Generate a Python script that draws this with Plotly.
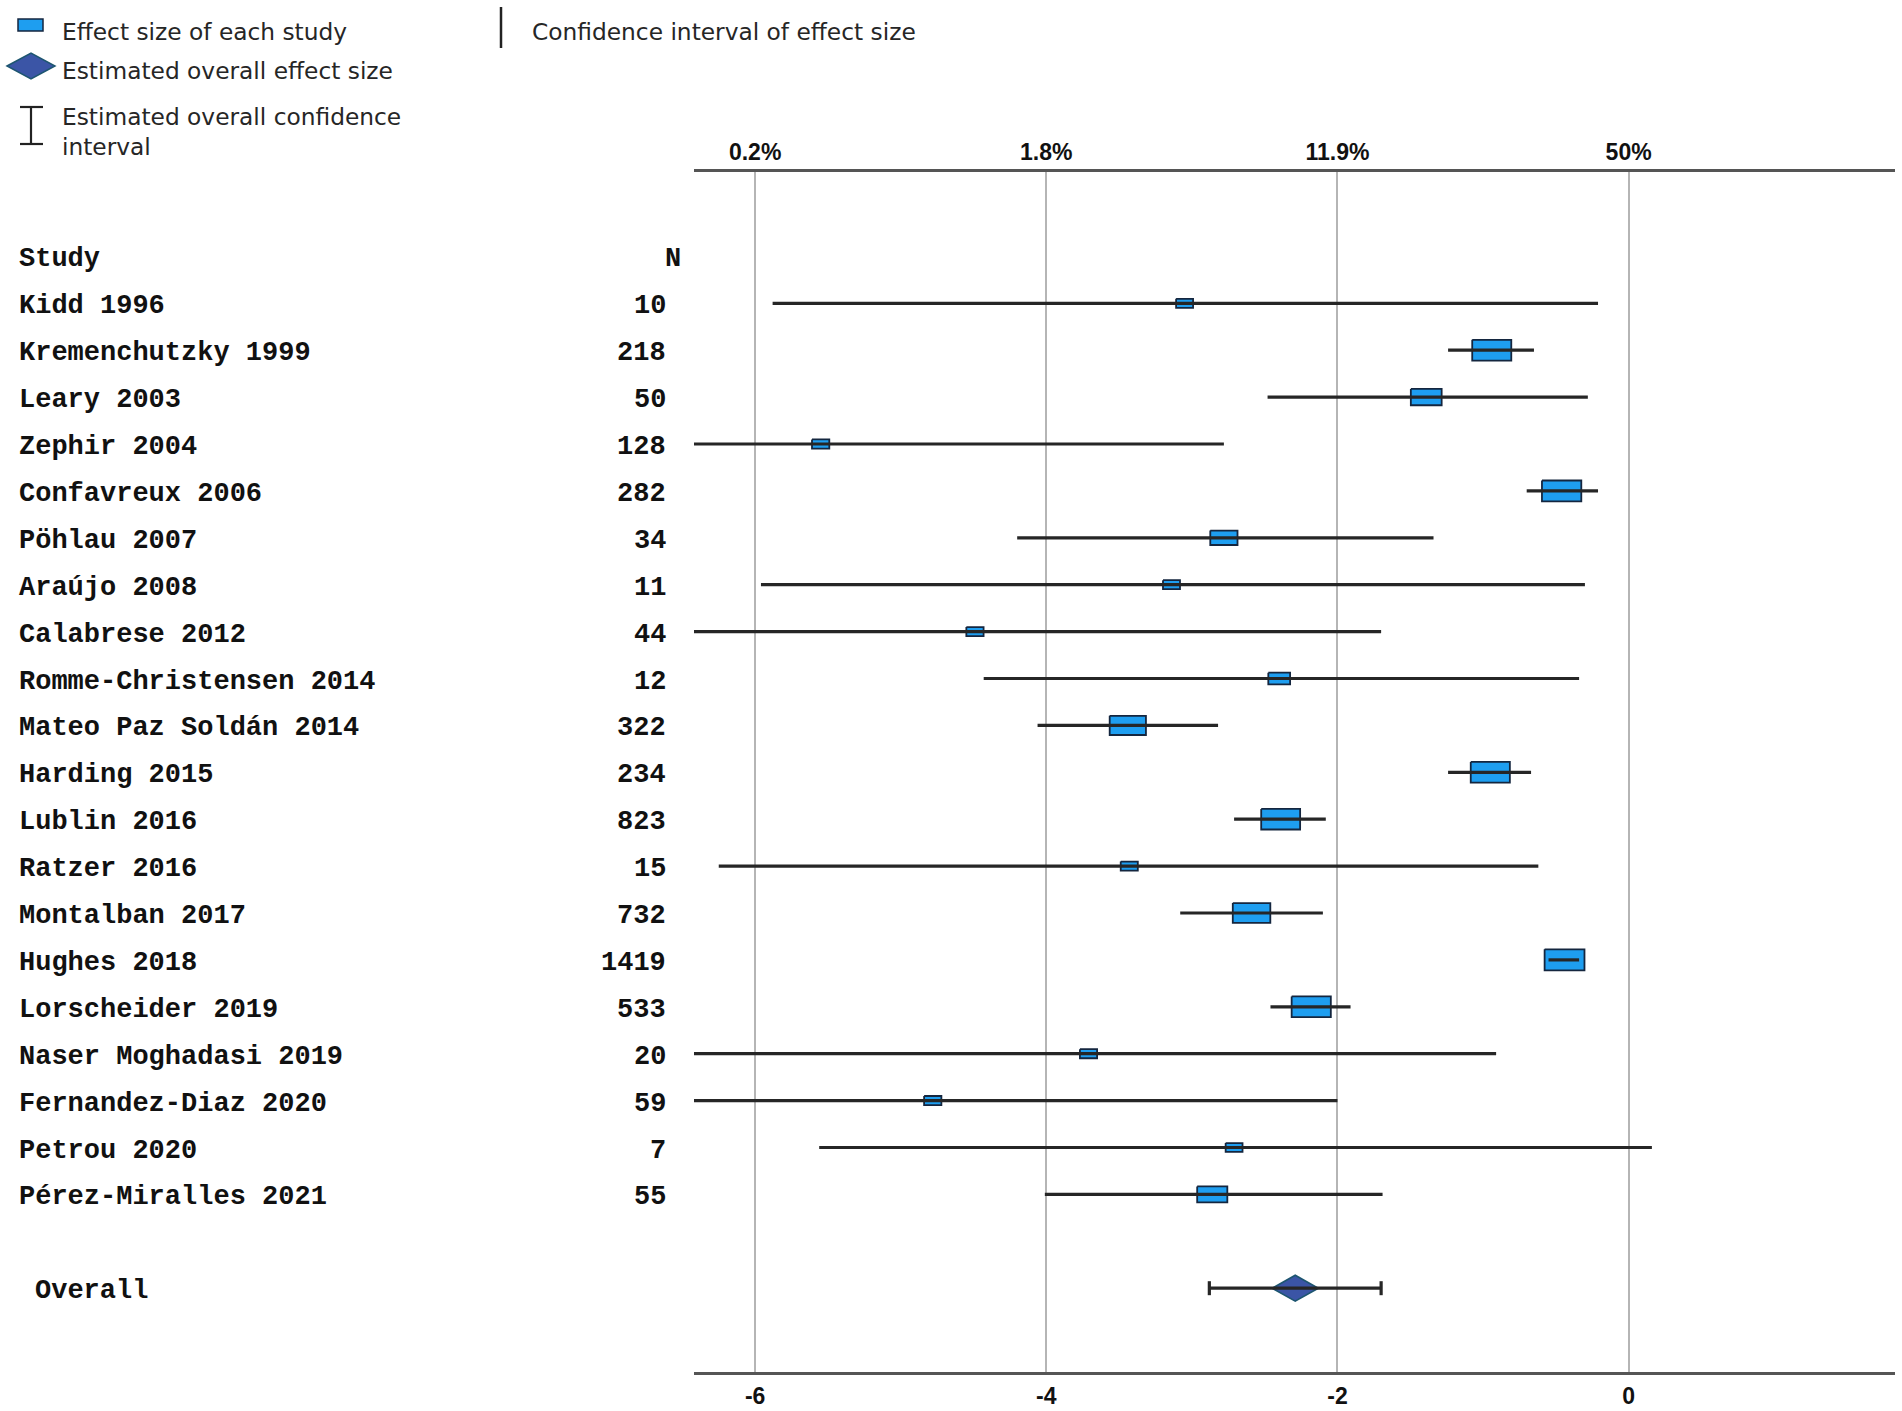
import plotly.graph_objects as go

# Forest plot: logit-scale proportion per study (lower axis), percentages on top

studies = [
    "Kidd 1996", "Kremenchutzky 1999", "Leary 2003", "Zephir 2004", "Confavreux 2006",
    "Pöhlau 2007", "Araújo 2008", "Calabrese 2012", "Romme-Christensen 2014", "Mateo Paz Soldán 2014",
    "Harding 2015", "Lublin 2016", "Ratzer 2016", "Montalban 2017", "Hughes 2018",
    "Lorscheider 2019", "Naser Moghadasi 2019", "Fernandez-Diaz 2020", "Petrou 2020", "Pérez-Miralles 2021",
]
n_patients = [10, 218, 50, 128, 282, 34, 11, 44, 12, 322, 234, 823, 15, 732, 1419, 533, 20, 59, 7, 55]
effect = [-3.05, -0.94, -1.39, -5.55, -0.46, -2.78, -3.14, -4.49, -2.40, -3.44,
          -0.95, -2.39, -3.43, -2.59, -0.44, -2.18, -3.71, -4.78, -2.71, -2.86]
ci_low = [-5.88, -1.24, -2.48, -8.32, -0.70, -4.20, -5.96, -7.27, -4.43, -4.06,
          -1.24, -2.71, -6.25, -3.08, -0.55, -2.46, -6.50, -7.55, -5.56, -4.01]
ci_high = [-0.21, -0.65, -0.28, -2.78, -0.21, -1.34, -0.30, -1.70, -0.34, -2.82,
           -0.67, -2.08, -0.62, -2.10, -0.34, -1.91, -0.91, -2.00, 0.16, -1.69]

overall_effect = -2.29
overall_low = -2.88
overall_high = -1.70

axis_ticks = [-6, -4, -2, 0]
bottom_tick_labels = ["-6", "-4", "-2", "0"]
top_tick_labels = ["0.2%", "1.8%", "11.9%", "50%"]

# ---- layout geometry (pixels) ----
W, H = 1902, 1411
PL, PR, PT, PB = 694, 1895, 172, 1372
X_RANGE = [-6.42, 1.83]
XPX = (PR - PL) / (X_RANGE[1] - X_RANGE[0])
ROW0, ROW_PX = 303.3, 46.9
Y_RANGE = [(PB - ROW0) / ROW_PX, (PT - ROW0) / ROW_PX]
OVERALL_ROW = 21

BOX_FILL = "#1e9ef0"
BOX_EDGE = "#14263f"
LINE_COL = "#262626"
DIAMOND_FILL = "#3b55a6"
DIAMOND_EDGE = "#1d5670"

# box size follows random-effects weight (saturates for precise studies)
TAU2 = 0.46


def box_width_px(lo, hi):
    se = (hi - lo) / 3.92
    w = 1 / (se ** 2 + TAU2)
    return 40 * (w * TAU2) ** 0.5


fig = go.Figure()

# study boxes
bx, by = [], []
for i, (e, lo, hi) in enumerate(zip(effect, ci_low, ci_high)):
    bw = box_width_px(lo, hi)
    hw = bw / 2 / XPX
    hh = bw * 0.53 / 2 / ROW_PX
    bx += [e - hw, e + hw, e + hw, e - hw, e - hw, None]
    by += [i - hh, i - hh, i + hh, i + hh, i - hh, None]
fig.add_trace(go.Scatter(
    x=bx, y=by, mode="lines", fill="toself", fillcolor=BOX_FILL,
    line=dict(color=BOX_EDGE, width=1.8), hoverinfo="skip", showlegend=False
))

# confidence intervals
cx, cy = [], []
for i, (lo, hi) in enumerate(zip(ci_low, ci_high)):
    cx += [lo, hi, None]
    cy += [i, i, None]
fig.add_trace(go.Scatter(
    x=cx, y=cy, mode="lines", line=dict(color=LINE_COL, width=3.2),
    hoverinfo="skip", showlegend=False
))

# overall diamond
dhw = 23 / XPX
dhh = 13 / ROW_PX
r = OVERALL_ROW
fig.add_trace(go.Scatter(
    x=[overall_effect - dhw, overall_effect, overall_effect + dhw, overall_effect, overall_effect - dhw],
    y=[r, r - dhh, r, r + dhh, r],
    mode="lines", fill="toself", fillcolor=DIAMOND_FILL,
    line=dict(color=DIAMOND_EDGE, width=1.6), hoverinfo="skip", showlegend=False
))

# overall CI with end caps
cap = 7 / ROW_PX
fig.add_trace(go.Scatter(
    x=[overall_low, overall_high, None, overall_low, overall_low, None, overall_high, overall_high],
    y=[r, r, None, r - cap, r + cap, None, r - cap, r + cap],
    mode="lines", line=dict(color=LINE_COL, width=3.2),
    hoverinfo="skip", showlegend=False
))

# invisible trace so the top axis gets drawn
fig.add_trace(go.Scatter(
    x=[axis_ticks[0]], y=[0], xaxis="x2", mode="markers",
    marker=dict(opacity=0), hoverinfo="skip", showlegend=False
))

tick_font = dict(family="Liberation Sans Narrow, Liberation Sans, Arial", size=23, color="#111111")

fig.update_layout(
    width=W, height=H,
    margin=dict(l=PL, r=W - PR, t=PT, b=H - PB, pad=0),
    plot_bgcolor="white", paper_bgcolor="white",
    xaxis=dict(
        range=X_RANGE, tickvals=axis_ticks, automargin=False,
        ticktext=[f"<b>{t}</b>" for t in bottom_tick_labels],
        tickfont=tick_font, ticks="outside", ticklen=1, tickcolor="rgba(0,0,0,0)",
        showgrid=True, gridcolor="#b5b5b5", gridwidth=1.5, zeroline=False,
        showline=True, linecolor="#555555", linewidth=3, mirror=True,
    ),
    xaxis2=dict(
        range=X_RANGE, overlaying="x", side="top", tickvals=axis_ticks, automargin=False,
        ticktext=[f"<b>{t}</b>" for t in top_tick_labels],
        tickfont=tick_font, ticks="outside", ticklen=2, tickcolor="rgba(0,0,0,0)",
        showgrid=False, zeroline=False, showline=False,
    ),
    yaxis=dict(range=Y_RANGE, visible=False, automargin=False),
)

# study table on the left
mono = dict(family="Liberation Mono, Courier New, monospace", size=27, color="#111111")
table = [("Study", "N", -1)] + [(s, str(n), i) for i, (s, n) in enumerate(zip(studies, n_patients))]
for name, n, row in table:
    fig.add_annotation(xref="paper", yref="y", x=0, y=row, xshift=17 - PL, yshift=-3,
                       text=f"<b>{name}</b>", showarrow=False, xanchor="left",
                       yanchor="middle", font=mono)
    fig.add_annotation(xref="paper", yref="y", x=0, y=row, xshift=(683 if row < 0 else 668) - PL,
                       yshift=-3, text=f"<b>{n}</b>", showarrow=False, xanchor="right",
                       yanchor="middle", font=mono)
fig.add_annotation(xref="paper", yref="y", x=0, y=OVERALL_ROW, xshift=33 - PL, yshift=-3,
                   text="<b>Overall</b>", showarrow=False, xanchor="left",
                   yanchor="middle", font=mono)


# legend drawn in pixel space above the plot
def px(x):
    return (x - PL) / (PR - PL)


def py(y):
    return (PB - y) / (PB - PT)


leg_font = dict(family="DejaVu Sans, Noto Sans, sans-serif", size=23.3, color="#262626")

fig.add_shape(type="rect", xref="paper", yref="paper",
              x0=px(18), x1=px(43), y0=py(19), y1=py(31),
              fillcolor=BOX_FILL, line=dict(color=BOX_EDGE, width=1.5))
fig.add_shape(type="path", xref="paper", yref="paper",
              path=f"M {px(7)},{py(66)} L {px(31)},{py(53)} L {px(55)},{py(66)} L {px(31)},{py(79)} Z",
              fillcolor=DIAMOND_FILL, line=dict(color=DIAMOND_EDGE, width=1.5))
for seg in [(31, 107, 31, 144), (20, 107, 43, 107), (20, 144, 43, 144)]:
    fig.add_shape(type="line", xref="paper", yref="paper",
                  x0=px(seg[0]), y0=py(seg[1]), x1=px(seg[2]), y1=py(seg[3]),
                  line=dict(color="#222222", width=2.2))
fig.add_shape(type="line", xref="paper", yref="paper",
              x0=px(501), y0=py(7), x1=px(501), y1=py(48),
              line=dict(color="#222222", width=2.5))

legend_items = [
    ("Effect size of each study", 60, 31),
    ("Estimated overall effect size", 60, 70),
    ("Estimated overall confidence<br>interval", 60, 131),
    ("Confidence interval of effect size", 530, 31),
]
for text, x, y in legend_items:
    fig.add_annotation(xref="paper", yref="paper", x=px(x), y=py(y), text=text,
                       showarrow=False, xanchor="left", yanchor="middle",
                       align="left", font=leg_font)

fig.write_html("out.html", config={"displayModeBar": False},
               post_script="document.body.style.margin='0';")
